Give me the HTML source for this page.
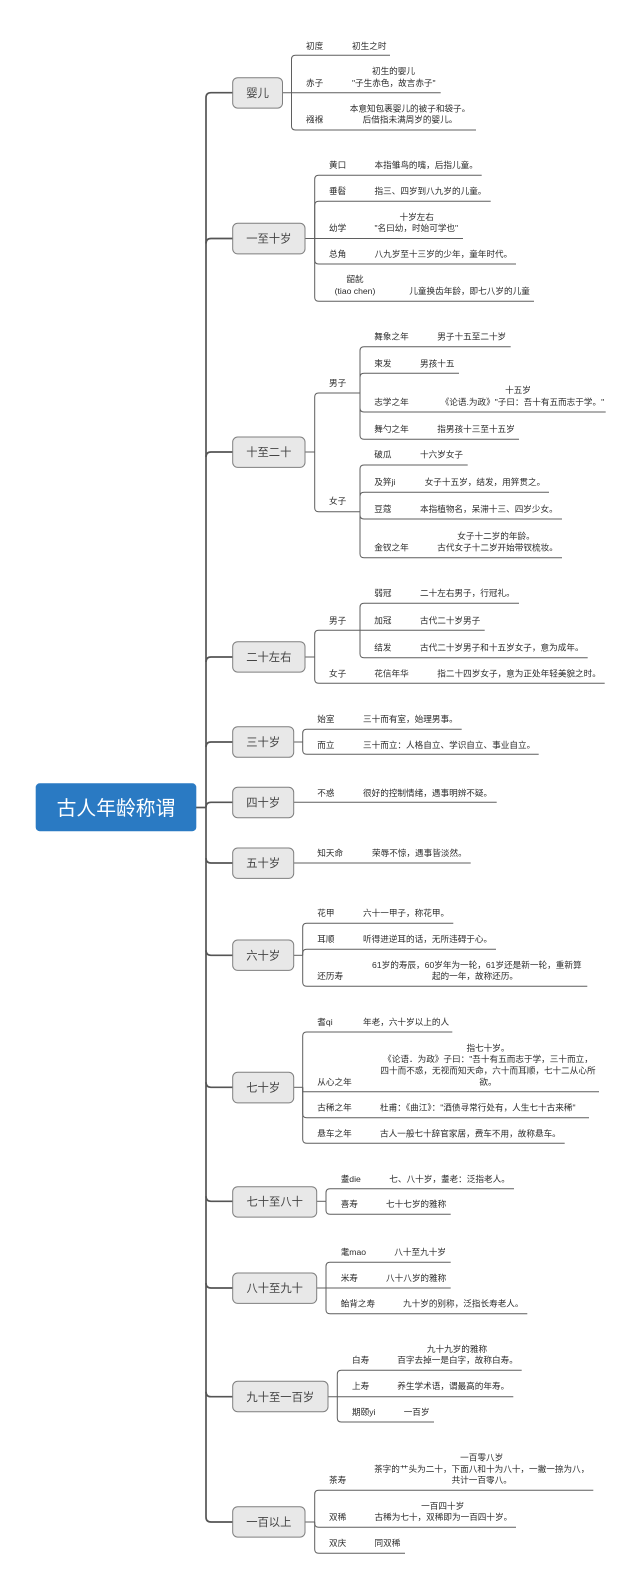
<!DOCTYPE html>
<html><head><meta charset="utf-8"><style>
html,body{margin:0;padding:0;background:#fff;width:641px;height:1589px;overflow:hidden}
svg{display:block;filter:blur(.25px)}
text{font-family:"Liberation Sans","Noto Sans CJK SC",sans-serif}
.t text{font-size:8.62px;fill:#2c2c2c}
.n text{font-size:11.3px;fill:#444;text-anchor:middle}
.n rect{fill:#e8e8e8;stroke:#7f7f7f;stroke-width:1}
.m{text-anchor:middle}
.c path{fill:none;stroke:#5f5f5f;stroke-width:1}
.b path{fill:none;stroke:#555;stroke-width:1.7}
</style></head><body>
<svg width="641" height="1589" viewBox="0 0 641 1589" xmlns="http://www.w3.org/2000/svg">
<g class="b">
<path d="M196 807.5H206"/>
<path d="M206 807.5V97.7Q206 92.7 211 92.7H232.7"/>
<path d="M206 243.5Q206 238.5 211 238.5H232.7"/>
<path d="M206 457Q206 452 211 452H232.7"/>
<path d="M206 662Q206 657 211 657H232.7"/>
<path d="M206 747Q206 742 211 742H232.7"/>
<path d="M206 807.3Q206 802.3 211 802.3H232.7"/>
<path d="M206 858Q206 863 211 863H232.7"/>
<path d="M206 807.5V1517Q206 1522 211 1522H232.7"/>
<path d="M206 950.3Q206 955.3 211 955.3H232.7"/>
<path d="M206 1082.3Q206 1087.3 211 1087.3H232.7"/>
<path d="M206 1196.3Q206 1201.3 211 1201.3H232.7"/>
<path d="M206 1283Q206 1288 211 1288H232.7"/>
<path d="M206 1391.7Q206 1396.7 211 1396.7H232.7"/>
</g>
<g class="c">
<!-- 婴儿 -->
<path d="M291.5 92.7V59.3Q291.5 55.3 295.5 55.3H390"/>
<path d="M282.5 92.7H440.7"/>
<path d="M291.5 92.7V126Q291.5 130 295.5 130H476"/>
<!-- 一至十岁 -->
<path d="M314.7 238.5V179.3Q314.7 175.3 318.7 175.3H481.7"/>
<path d="M314.7 238.5V205.3Q314.7 201.3 318.7 201.3H490.7"/>
<path d="M305 238.5H463"/>
<path d="M314.7 238.5V260Q314.7 264 318.7 264H516"/>
<path d="M314.7 238.5V297.3Q314.7 301.3 318.7 301.3H534"/>
<!-- 十至二十 -->
<path d="M305 452H314.7"/>
<path d="M314.7 452V397Q314.7 393 318.7 393H360"/>
<path d="M314.7 452V507.7Q314.7 511.7 318.7 511.7H360"/>
<path d="M360 393V350.7Q360 346.7 364 346.7H510.7"/>
<path d="M360 393V377.3Q360 373.3 364 373.3H459"/>
<path d="M360 393V408Q360 412 364 412H605.7"/>
<path d="M360 393V435.3Q360 439.3 364 439.3H519"/>
<path d="M360 511.7V469Q360 465 364 465H467.7"/>
<path d="M360 511.7V496.3Q360 492.3 364 492.3H549"/>
<path d="M360 511.7V515Q360 519 364 519H562"/>
<path d="M360 511.7V553.7Q360 557.7 364 557.7H562"/>
<!-- 二十左右 -->
<path d="M305 657H314.7"/>
<path d="M314.7 657V634.3Q314.7 630.3 318.7 630.3H484.7"/>
<path d="M314.7 657V679.3Q314.7 683.3 318.7 683.3H604.7"/>
<path d="M360 630.3V607.3Q360 603.3 364 603.3H519"/>
<path d="M360 630.3V653.7Q360 657.7 364 657.7H587.7"/>
<!-- 三十岁 -->
<path d="M293.7 742H302.7"/>
<path d="M302.7 742V733.3Q302.7 729.3 306.7 729.3H461.7"/>
<path d="M302.7 742V750.3Q302.7 754.3 306.7 754.3H538.7"/>
<!-- 四十 五十 -->
<path d="M293.7 802.3H496.7"/>
<path d="M293.7 863H470.7"/>
<!-- 六十岁 -->
<path d="M293.7 955.3H302.7"/>
<path d="M302.7 955.3V927.3Q302.7 923.3 306.7 923.3H453.3"/>
<path d="M302.7 955.3V953.3Q302.7 949.3 306.7 949.3H496"/>
<path d="M302.7 955.3V982.3Q302.7 986.3 306.7 986.3H587.3"/>
<!-- 七十岁 -->
<path d="M293.7 1087.3H302.7"/>
<path d="M302.7 1087.3V1036Q302.7 1032 306.7 1032H452.3"/>
<path d="M302.7 1087.3V1091.7H599"/>
<path d="M302.7 1087.3V1113.7Q302.7 1117.7 306.7 1117.7H589"/>
<path d="M302.7 1087.3V1139.3Q302.7 1143.3 306.7 1143.3H564.7"/>
<!-- 七十至八十 -->
<path d="M316.7 1201.3H326"/>
<path d="M326 1201.3V1192.7Q326 1188.7 330 1188.7H514"/>
<path d="M326 1201.3V1210.3Q326 1214.3 330 1214.3H450.7"/>
<!-- 八十至九十 -->
<path d="M326 1288V1266.3Q326 1262.3 330 1262.3H450.7"/>
<path d="M316.7 1288H450.7"/>
<path d="M326 1288V1309.7Q326 1313.7 330 1313.7H527.3"/>
<!-- 九十至一百 -->
<path d="M337.3 1396.7V1374.3Q337.3 1370.3 341.3 1370.3H521.7"/>
<path d="M328 1396.7H513.3"/>
<path d="M337.3 1396.7V1418Q337.3 1422 341.3 1422H434"/>
<!-- 一百以上 -->
<path d="M305 1522H314.7"/>
<path d="M314.7 1522V1494.3Q314.7 1490.3 318.7 1490.3H593.3"/>
<path d="M314.7 1522V1523.3Q314.7 1527.3 318.7 1527.3H516"/>
<path d="M314.7 1522V1549.3Q314.7 1553.3 318.7 1553.3H405"/>
</g>
<rect x="35.7" y="783.3" width="160.6" height="47.9" rx="4" fill="#2a7ac3"/>
<text x="116" y="815" font-size="19.8" fill="#fff" text-anchor="middle">古人年龄称谓</text>
<g class="n">
<rect x="232.7" y="77.7" width="49.8" height="30.4" rx="5"/><text x="257.6" y="97">婴儿</text>
<rect x="232.7" y="223.3" width="72.3" height="30.6" rx="5"/><text x="268.8" y="242.7">一至十岁</text>
<rect x="232.7" y="437" width="72.3" height="30.4" rx="5"/><text x="268.8" y="456.2">十至二十</text>
<rect x="232.7" y="641.7" width="72.3" height="30.4" rx="5"/><text x="268.8" y="661.2">二十左右</text>
<rect x="232.7" y="726.7" width="61" height="30.6" rx="5"/><text x="263.2" y="746.2">三十岁</text>
<rect x="232.7" y="787.3" width="61" height="30.4" rx="5"/><text x="263.2" y="806.5">四十岁</text>
<rect x="232.7" y="848" width="61" height="30.4" rx="5"/><text x="263.2" y="867.2">五十岁</text>
<rect x="232.7" y="940" width="61" height="30.4" rx="5"/><text x="263.2" y="959.5">六十岁</text>
<rect x="232.7" y="1072.3" width="61" height="30.6" rx="5"/><text x="263.2" y="1091.5">七十岁</text>
<rect x="232.7" y="1186.7" width="84" height="30.4" rx="5"/><text x="274.7" y="1205.5">七十至八十</text>
<rect x="232.7" y="1273" width="84" height="30.4" rx="5"/><text x="274.7" y="1292.2">八十至九十</text>
<rect x="232.7" y="1381.3" width="95.3" height="30.4" rx="5"/><text x="280.3" y="1400.9">九十至一百岁</text>
<rect x="232.7" y="1506.7" width="72.3" height="30.4" rx="5"/><text x="268.8" y="1526.2">一百以上</text>
</g>
<g class="t">
<text x="306" y="48.9">初度</text><text x="352" y="48.9">初生之时</text>
<text x="393.5" y="74.2" class="m">初生的婴儿</text>
<text x="306" y="85.9">赤子</text><text x="352" y="85.9">"子生赤色，故言赤子"</text>
<text x="410" y="111.5" class="m">本意知包裹婴儿的被子和袋子。</text>
<text x="306" y="122.5">襁褓</text><text x="410" y="122.5" class="m">后借指未满周岁的婴儿。</text>

<text x="329" y="168.2">黄口</text><text x="374.5" y="168.2">本指雏鸟的嘴，后指儿童。</text>
<text x="329" y="194.2">垂髫</text><text x="374.5" y="194.2">指三、四岁到八九岁的儿童。</text>
<text x="416.7" y="219.9" class="m">十岁左右</text>
<text x="329" y="231.2">幼学</text><text x="374.5" y="231.2">"名曰幼，时始可学也"</text>
<text x="329" y="257.2">总角</text><text x="374.5" y="257.2">八九岁至十三岁的少年，童年时代。</text>
<text x="355" y="282.2" class="m">龆龀</text>
<text x="355" y="293.9" class="m">(tiao chen)</text><text x="409.3" y="293.9">儿童换齿年龄，即七八岁的儿童</text>

<text x="329" y="385.9">男子</text><text x="329" y="504.2">女子</text>
<text x="374.3" y="339.5">舞象之年</text><text x="437.3" y="339.5">男子十五至二十岁</text>
<text x="374.3" y="366.5">束发</text><text x="420" y="366.5">男孩十五</text>
<text x="518" y="393.2" class="m">十五岁</text>
<text x="374.3" y="405.2">志学之年</text><text x="440.7" y="405.2">《论语.为政》"子曰：吾十有五而志于学。"</text>
<text x="374.3" y="432.2">舞勺之年</text><text x="437.3" y="432.2">指男孩十三至十五岁</text>
<text x="374.3" y="457.5">破瓜</text><text x="420" y="457.5">十六岁女子</text>
<text x="374.3" y="485.2">及笄ji</text><text x="424.7" y="485.2">女子十五岁，结发，用笄贯之。</text>
<text x="374.3" y="512.2">豆蔻</text><text x="420" y="512.2">本指植物名，呆滞十三、四岁少女。</text>
<text x="496" y="539.2" class="m">女子十二岁的年龄。</text>
<text x="374.3" y="550.5">金钗之年</text><text x="437.3" y="550.5">古代女子十二岁开始带钗梳妆。</text>

<text x="329" y="623.5">男子</text><text x="329" y="676.5">女子</text>
<text x="374.3" y="596.2">弱冠</text><text x="420" y="596.2">二十左右男子，行冠礼。</text>
<text x="374.3" y="623.5">加冠</text><text x="420" y="623.5">古代二十岁男子</text>
<text x="374.3" y="650.5">结发</text><text x="420" y="650.5">古代二十岁男子和十五岁女子，意为成年。</text>
<text x="374.3" y="676.5">花信年华</text><text x="437.3" y="676.5">指二十四岁女子，意为正处年轻美貌之时。</text>

<text x="317.3" y="722.2">始室</text><text x="363" y="722.2">三十而有室，始理男事。</text>
<text x="317.3" y="747.9">而立</text><text x="363" y="747.9">三十而立：人格自立、学识自立、事业自立。</text>
<text x="317.3" y="795.9">不惑</text><text x="363" y="795.9">很好的控制情绪，遇事明辨不疑。</text>
<text x="317.3" y="855.9">知天命</text><text x="372" y="855.9">荣辱不惊，遇事皆淡然。</text>

<text x="317.3" y="916.2">花甲</text><text x="363" y="916.2">六十一甲子，称花甲。</text>
<text x="317.3" y="942.2">耳顺</text><text x="363" y="942.2">听得进逆耳的话，无所违碍于心。</text>
<text x="476.8" y="967.9" class="m">61岁的寿辰，60岁年为一轮，61岁还是新一轮，重新算</text>
<text x="317.3" y="979.2">还历寿</text><text x="475" y="979.2" class="m">起的一年，故称还历。</text>

<text x="317.3" y="1024.9">耆qi</text><text x="363" y="1024.9">年老，六十岁以上的人</text>
<text x="488" y="1050.9" class="m">指七十岁。</text>
<text x="488" y="1062.2" class="m">《论语．为政》子曰："吾十有五而志于学，三十而立，</text>
<text x="488" y="1073.5" class="m">四十而不惑，无视而知天命，六十而耳顺，七十二从心所</text>
<text x="317.3" y="1084.9">从心之年</text><text x="488" y="1084.9" class="m">欲。</text>
<text x="317.3" y="1110.5">古稀之年</text><text x="380" y="1110.5">杜甫：《曲江》："酒债寻常行处有，人生七十古来稀"</text>
<text x="317.3" y="1136.5">悬车之年</text><text x="380" y="1136.5">古人一般七十辞官家居，费车不用，故称悬车。</text>

<text x="340.7" y="1181.9">耋die</text><text x="389.3" y="1181.9">七、八十岁，耋老：泛指老人。</text>
<text x="340.7" y="1207.2">喜寿</text><text x="386" y="1207.2">七十七岁的雅称</text>
<text x="340.7" y="1255.2">耄mao</text><text x="394.3" y="1255.2">八十至九十岁</text>
<text x="340.7" y="1280.9">米寿</text><text x="386" y="1280.9">八十八岁的雅称</text>
<text x="340.7" y="1306.5">鲐背之寿</text><text x="403" y="1306.5">九十岁的别称，泛指长寿老人。</text>

<text x="457" y="1351.9" class="m">九十九岁的雅称</text>
<text x="352" y="1363.2">白寿</text><text x="397.3" y="1363.2">百字去掉一是白字，故称白寿。</text>
<text x="352" y="1389.2">上寿</text><text x="397.3" y="1389.2">养生学术语，谓最高的年寿。</text>
<text x="352" y="1414.9">期颐yi</text><text x="403.7" y="1414.9">一百岁</text>

<text x="481.7" y="1460.5" class="m">一百零八岁</text>
<text x="481.7" y="1471.9" class="m">茶字的艹头为二十，下面八和十为八十，一撇一捺为八，</text>
<text x="329" y="1483.2">茶寿</text><text x="481.7" y="1483.2" class="m">共计一百零八。</text>
<text x="442.7" y="1508.9" class="m">一百四十岁</text>
<text x="329" y="1520.2">双稀</text><text x="374.5" y="1520.2">古稀为七十，双稀即为一百四十岁。</text>
<text x="329" y="1545.9">双庆</text><text x="374.5" y="1545.9">同双稀</text>
</g>
</svg>
</body></html>
